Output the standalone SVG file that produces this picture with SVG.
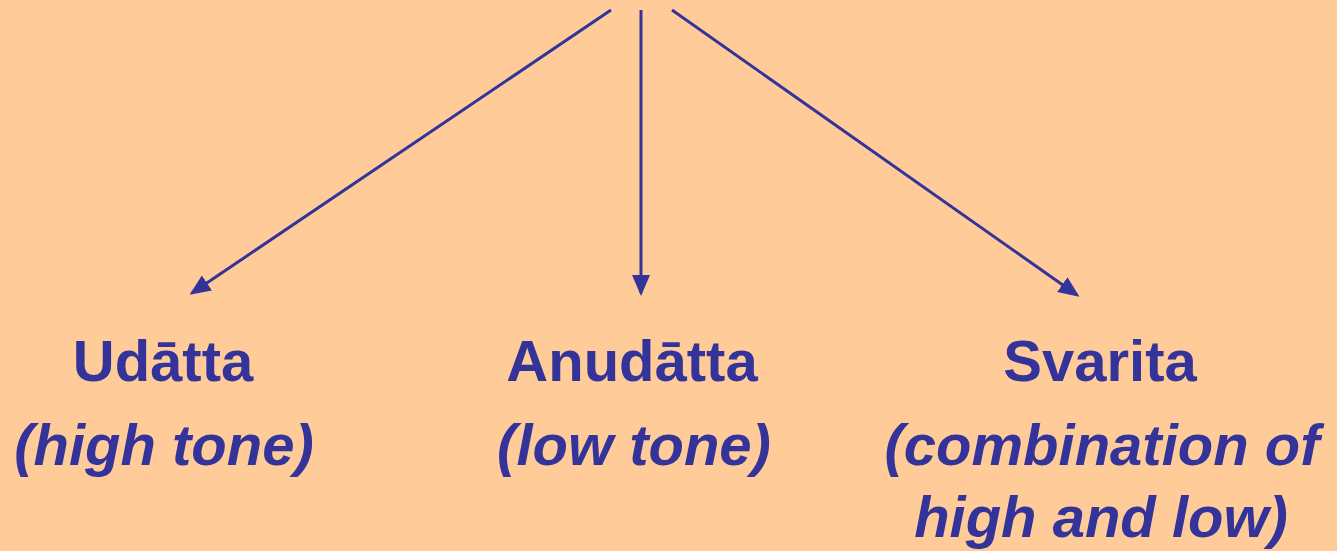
<svg xmlns="http://www.w3.org/2000/svg" width="1337" height="551" viewBox="0 0 1337 551">
<style>
.t{font-family:"Liberation Sans",Arial,sans-serif;font-weight:bold;fill:#333399;text-anchor:middle;font-size:58px}
.i{font-style:italic}
.c{stroke:#333399;stroke-width:3;fill:none;marker-end:url(#ah)}
</style>
<defs>
<marker id="ah" markerWidth="7" markerHeight="6" refX="6" refY="3" orient="auto" markerUnits="strokeWidth">
<path d="M0,0 L7,3 L0,6 z" fill="#333399"/>
</marker>
</defs>
<rect width="1337" height="551" fill="#FFCC99"/>
<g id="connectors">
<line class="c" x1="611" y1="10" x2="192" y2="293"/>
<line class="c" x1="641" y1="10" x2="641" y2="293"/>
<line class="c" x1="672" y1="10" x2="1077" y2="295"/>
</g>
<g id="udatta">
<text class="t" x="163" y="381">Udātta</text>
<text class="t i" x="164" y="465">(high tone)</text>
</g>
<g id="anudatta">
<text class="t" x="632" y="381">Anudātta</text>
<text class="t i" x="634" y="465">(low tone)</text>
</g>
<g id="svarita">
<text class="t" x="1100" y="381">Svarita</text>
<text class="t i" x="1102" y="465">(combination of</text>
<text class="t i" x="1101" y="537">high and low)</text>
</g>
</svg>
